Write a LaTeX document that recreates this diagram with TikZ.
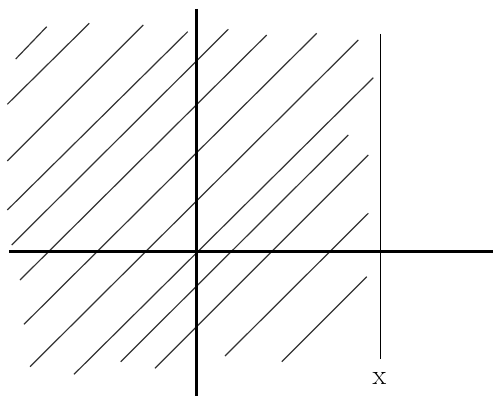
\documentclass[tikz,border=0pt]{standalone}
\begin{document}
\begin{tikzpicture}[x=1pt,y=-1pt,
  hatch/.style={draw=black!80,line width=1.2pt},
  axis/.style={draw=black,line width=3pt},
  bound/.style={draw=black,line width=1.6pt},
  lbl/.style={font=\fontsize{28}{28}\selectfont,inner sep=0pt}]
\useasboundingbox[fill=white] (0,0) rectangle (493,396);
% hatching lines at 45 degrees
\foreach \ax/\ay/\bx/\by in {
  15.7/59/46.7/26.7,
  7.3/104.3/89.3/23.3,
  7.3/161/143.3/25,
  7.3/210/187.7/31.7,
  11.7/245/228.3/29.3,
  20/280/266.7/35,
  24/324.3/316.7/33.3,
  30/366.7/358.3/40,
  74/374.3/373.3/77.7,
  120.7/361.7/348.3/135,
  155/368.3/368.3/155,
  225/356/368.3/213.3,
  281.7/361.7/366.7/276.7}
  \draw[hatch] (\ax,\ay) -- (\bx,\by);
% axes
\draw[axis] (196.5,9) -- (196.5,396);
\draw[axis] (9,251) -- (493,251);
% boundary line
\draw[bound] (380.5,34) -- (380.5,358.5);
\node[lbl] (xlabel) at (379.5,378) {x};
\end{tikzpicture}
\end{document}
